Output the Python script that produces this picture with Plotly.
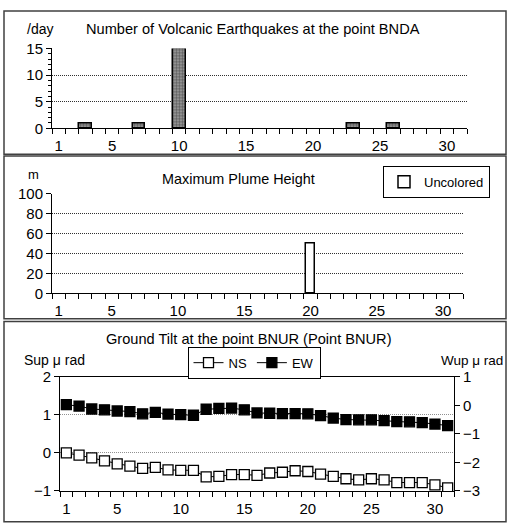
import plotly.graph_objects as go

W, H = 509, 526

# ---------------- data ----------------
days = list(range(1, 32))

quake_days = [3, 7, 10, 23, 26]
quake_counts = [1, 1, 15, 1, 1]

plume_days = [20]
plume_heights = [50]

ns_tilt = [0.00, -0.06, -0.13, -0.21, -0.29, -0.35, -0.41, -0.38, -0.45, -0.46,
           -0.46, -0.63, -0.62, -0.57, -0.57, -0.59, -0.53, -0.51, -0.47, -0.49,
           -0.56, -0.62, -0.68, -0.71, -0.68, -0.71, -0.78, -0.78, -0.78, -0.84,
           -0.92]
ew_tilt = [0.02, -0.03, -0.13, -0.16, -0.20, -0.22, -0.30, -0.25, -0.31, -0.33,
           -0.35, -0.14, -0.11, -0.10, -0.16, -0.27, -0.28, -0.29, -0.29, -0.30,
           -0.36, -0.45, -0.50, -0.51, -0.51, -0.54, -0.57, -0.58, -0.61, -0.66,
           -0.71]

x_tickvals = [1, 5, 10, 15, 20, 25, 30]
x_ticktext = ["1", "5", "10", "15", "20", "25", "30"]
x_boundaries = [d - 0.5 for d in range(1, 33)]

FONT = "Liberation Sans"


def px_x(p):
    return p / W


def px_y(p):
    return 1 - p / H


fig = go.Figure()

# Panel 1: earthquakes
fig.add_trace(go.Bar(
    x=quake_days, y=quake_counts, width=0.95, xaxis="x", yaxis="y",
    marker=dict(color="#808080", line=dict(color="black", width=1.5),
                pattern=dict(shape=".", fgcolor="#101010", bgcolor="#a8a8a8",
                             size=3, solidity=0.6)),
    showlegend=False,
))

# Panel 2: plume height
fig.add_trace(go.Bar(
    x=plume_days, y=plume_heights, width=0.68, xaxis="x2", yaxis="y2",
    marker=dict(color="white", line=dict(color="black", width=1.5)),
    name="Uncolored", legend="legend", showlegend=True,
))

# Panel 3: tilt
fig.add_trace(go.Scatter(
    x=days, y=ns_tilt, xaxis="x3", yaxis="y3", mode="lines+markers",
    name="NS", legend="legend2",
    line=dict(color="black", width=1),
    marker=dict(symbol="square", size=10, color="white",
                line=dict(color="black", width=1.3)),
))
fig.add_trace(go.Scatter(
    x=days, y=ew_tilt, xaxis="x3", yaxis="y4", mode="lines+markers",
    name="EW", legend="legend2",
    line=dict(color="black", width=1),
    marker=dict(symbol="square", size=10, color="black",
                line=dict(color="black", width=1.3)),
))

tickfont = dict(family=FONT, size=15, color="black")


def xaxis_cfg(x0, x1, anchor, mirror=False):
    return dict(
        domain=[px_x(x0), px_x(x1)], anchor=anchor, range=[0.5, 31.5],
        tickmode="array", tickvals=x_tickvals, ticktext=x_ticktext,
        ticks="outside", ticklen=4, tickcolor="rgba(0,0,0,0)",
        showline=True, linecolor="black", linewidth=1, mirror=mirror,
        showgrid=False, zeroline=False, tickfont=tickfont,
        minor=dict(tickmode="array", tickvals=x_boundaries, ticks="outside",
                   ticklen=5, tickcolor="black", tickwidth=1, showgrid=False),
        fixedrange=True,
    )


grid_common = dict(showgrid=True, gridcolor="#303030", griddash="1px,1px", gridwidth=1)

fig.update_layout(
    width=W, height=H, autosize=False,
    margin=dict(l=0, r=0, t=0, b=0),
    paper_bgcolor="white", plot_bgcolor="white",
    font=dict(family=FONT, size=14, color="black"),
    bargap=0,
    xaxis=xaxis_cfg(52, 467, "y"),
    yaxis=dict(domain=[px_y(123.3), px_y(40.7)], anchor="x", range=[0, 15],
               tickvals=[0, 5, 10, 15], ticks="outside", ticklen=5,
               tickcolor="black", showline=True, linecolor="black",
               zeroline=False, tickfont=tickfont, **grid_common,
               minor=dict(dtick=1, ticks="outside", ticklen=3,
                          tickcolor="black", showgrid=False)),
    xaxis2=xaxis_cfg(52, 463, "y2"),
    yaxis2=dict(domain=[px_y(294), px_y(190.7)], anchor="x2", range=[0, 100],
                tickvals=[0, 20, 40, 60, 80, 100], ticks="outside", ticklen=5,
                tickcolor="black", showline=True, linecolor="black",
                zeroline=False, tickfont=tickfont, **grid_common),
    xaxis3=xaxis_cfg(60, 454, "y3", mirror=True),
    yaxis3=dict(domain=[px_y(498), px_y(380)], anchor="x3", range=[-1, 2],
                tickvals=[-1, 0, 1, 2], ticktext=["\u22121", "0", "1", "2"],
                ticks="outside", ticklen=5, tickcolor="black",
                showline=True, linecolor="black", zeroline=False,
                tickfont=tickfont, showgrid=True, gridcolor="#909090",
                griddash="1px,1px", gridwidth=1),
    yaxis4=dict(domain=[px_y(498), px_y(380)], anchor="x3", overlaying="y3",
                side="right", range=[-3, 1], tickvals=[-3, -2, -1, 0, 1],
                ticktext=["\u22123", "\u22122", "\u22121", "0", "1"],
                ticks="outside", ticklen=5, tickcolor="black",
                showline=True, linecolor="black", zeroline=False,
                showgrid=False, tickfont=tickfont),
    legend=dict(x=px_x(490), y=px_y(162), xanchor="right", yanchor="top",
                bgcolor="white", bordercolor="black", borderwidth=1,
                font=dict(family=FONT, size=13), itemwidth=30,
                tracegroupgap=0),
    legend2=dict(x=px_x(254), y=px_y(349), xanchor="center", yanchor="top",
                 orientation="h", bgcolor="white", bordercolor="black",
                 borderwidth=1, font=dict(family=FONT, size=13), itemwidth=30),
)

# panel frames
frames = [(4, 2, 506, 150), (4, 152, 506, 320), (4, 323, 506, 530)]
for x0, y0, x1, y1 in frames:
    fig.add_shape(type="rect", xref="paper", yref="paper",
                  x0=px_x(x0), x1=px_x(x1), y0=px_y(y1), y1=px_y(y0),
                  line=dict(color="#404040", width=1.5), fillcolor="rgba(0,0,0,0)",
                  layer="below")

texts = [
    ("/day", 40, 21, 14, "center"),
    ("Number of Volcanic Earthquakes at the point BNDA", 253, 21, 14.6, "center"),
    ("m", 33, 171, 13, "center"),
    ("Maximum Plume Height", 238, 176, 14.4, "center"),
    ("Ground Tilt at the point BNUR (Point BNUR)", 249, 341, 14.6, "center"),
    ("Sup \u03bc rad", 54, 363, 14, "center"),
    ("Wup \u03bc rad", 505, 363, 13.5, "right"),
]
for t, x, y, s, anc in texts:
    fig.add_annotation(text=t, xref="paper", yref="paper", x=px_x(x), y=px_y(y),
                       xanchor=anc, yanchor="middle", showarrow=False,
                       font=dict(family=FONT, size=s, color="black"))

fig.write_html(
    "out.html",
    config={"displayModeBar": False},
    post_script="document.body.style.margin='0';document.body.style.padding='0';"
                "document.documentElement.style.overflow='hidden';",
)
